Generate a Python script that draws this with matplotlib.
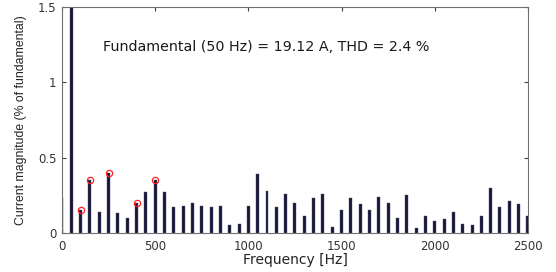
import numpy as np
import matplotlib
matplotlib.use("Agg")
import matplotlib.pyplot as plt

# harmonic spectrum, 0..2500 Hz in 50 Hz steps
freq_hz = np.arange(0, 2550, 50)
magnitude = [
    0.23, 100.0, 0.15, 0.35, 0.14, 0.40, 0.13, 0.10, 0.20, 0.27,
    0.35, 0.27, 0.17, 0.18, 0.20, 0.18, 0.17, 0.18, 0.05, 0.06,
    0.18, 0.39, 0.28, 0.17, 0.26, 0.20, 0.11, 0.23, 0.26, 0.04,
    0.15, 0.23, 0.19, 0.15, 0.24, 0.20, 0.10, 0.25, 0.03, 0.11,
    0.08, 0.09, 0.14, 0.06, 0.05, 0.11, 0.30, 0.17, 0.21, 0.19,
    0.11,
]
marked_hz = [100, 150, 250, 400, 500]
annotation = "Fundamental (50 Hz) = 19.12 A, THD = 2.4 %"

AXIS_GREY = "#404040"

fig = plt.figure(figsize=(5.56, 2.72), dpi=100)
ax = fig.add_axes([0.1115, 0.1434, 0.838, 0.8309])

ax.bar(freq_hz, magnitude, width=16, color="#16163a", edgecolor="#55556a",
       linewidth=0.3, zorder=2)

mag_lookup = dict(zip(freq_hz.tolist(), magnitude))
ax.plot(marked_hz, [mag_lookup[f] for f in marked_hz], "o", ms=4.5, mfc="none",
        mec="#ff2020", mew=0.9, zorder=3)

ax.text(220, 1.207, annotation, fontsize=10.3, color="#1a1a1a", va="baseline")

ax.set_xlim(0, 2500)
ax.set_ylim(0, 1.5)
ax.set_xticks([0, 500, 1000, 1500, 2000, 2500])
ax.set_yticks([0, 0.5, 1, 1.5])
ax.set_yticklabels(["0", "0.5", "1", "1.5"])
ax.tick_params(direction="in", top=True, right=True, length=3,
               labelsize=8.5, colors=AXIS_GREY, labelcolor="#333333", pad=4)
ax.tick_params(axis="x", pad=5)
for spine in ax.spines.values():
    spine.set_color("#707070")
    spine.set_linewidth(0.8)

ax.set_xlabel("Frequency [Hz]", fontsize=10, color="#222222", labelpad=0)
ax.set_ylabel("Current magnitude (% of fundamental)", fontsize=8.8,
              family="Liberation Sans", color="#222222", labelpad=8)

fig.savefig("out.png", dpi=100)
plt.close(fig)
